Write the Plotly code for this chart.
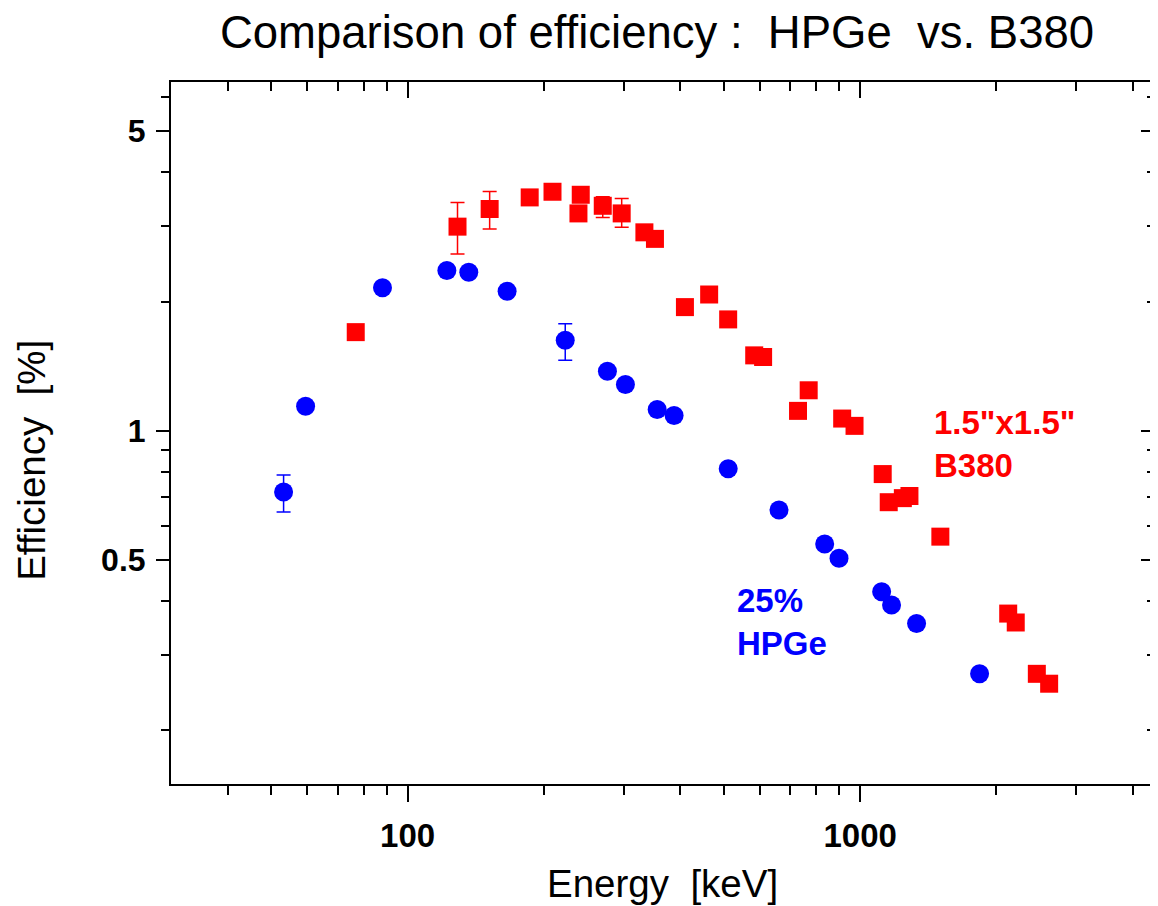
import plotly.graph_objects as go
import math

# ---------------- data ----------------
hpge_energy = [53.2, 59.5, 88.0, 122.1, 136.5, 165.9, 223.0, 276.4, 302.9, 356.0, 388.0,
               511.0, 661.7, 834.8, 898.0, 1115.5, 1173.2, 1332.5, 1836.1]
hpge_eff = [0.719, 1.140, 2.153, 2.362, 2.340, 2.114, 1.624, 1.375, 1.281, 1.120, 1.085,
            0.815, 0.653, 0.544, 0.504, 0.421, 0.392, 0.355, 0.271]
hpge_err_plus = [0.069, 0, 0, 0, 0, 0, 0.152, 0, 0, 0, 0, 0, 0, 0, 0, 0, 0, 0, 0]
hpge_err_minus = [0.073, 0, 0, 0, 0, 0, 0.165, 0, 0, 0, 0, 0, 0, 0, 0, 0, 0, 0, 0]

b380_energy = [76.8, 128.9, 151.8, 186.1, 209.0, 238.5, 241.3, 269.9, 297.2, 333.6, 352.0,
               410.0, 463.8, 510.9, 583.3, 610.3, 729.0, 769.6, 912.6, 971.8,
               1121.6, 1156.5, 1242.6, 1285.0, 1504.0, 2124.0, 2207.0, 2457.0, 2616.0]
b380_eff = [1.697, 2.990, 3.287, 3.498, 3.606, 3.210, 3.548, 3.344, 3.210, 2.900, 2.800,
            1.941, 2.077, 1.817, 1.498, 1.485, 1.112, 1.242, 1.067, 1.026,
            0.792, 0.681, 0.696, 0.704, 0.566, 0.3745, 0.357, 0.271, 0.257]
b380_err_plus = [0, 0.415, 0.325, 0, 0, 0, 0, 0.166, 0.267, 0, 0,
                 0, 0, 0, 0, 0, 0, 0, 0, 0,
                 0, 0, 0, 0, 0, 0, 0, 0, 0]
b380_err_minus = [0, 0.407, 0.334, 0, 0, 0, 0, 0.204, 0.230, 0, 0,
                  0, 0, 0, 0, 0, 0, 0, 0, 0,
                  0, 0, 0, 0, 0, 0, 0, 0, 0]

x_major_vals = [100, 1000]
x_major_text = ["100", "1000"]
x_minor_vals = [40, 50, 60, 70, 80, 90, 200, 300, 400, 500, 600, 700, 800, 900, 2000, 3000, 4000]
y_major_vals = [0.5, 1, 5]
y_major_text = ["0.5", "1", "5"]
y_minor_vals = [0.2, 0.3, 0.4, 0.6, 0.7, 0.8, 0.9, 2, 3, 4, 6]

x_range = [30, 4460]
y_range = [0.15, 6.5]

FONT = "Liberation Sans, Arial, sans-serif"
BLUE = "#0000FF"
RED = "#FF0000"

# page has an 8px body margin: figure is sized/positioned to compensate
OFF = 8
W, H = 1158 - OFF, 906 - OFF
PL, PT, PR, PB = 171, 82, 1156, 784          # plot frame in page pixels
PW, PH = PR - PL, PB - PT


def px_x(px):
    return (px - PL) / PW


def px_y(py):
    return 1 - (py - PT) / PH


fig = go.Figure()

fig.add_trace(go.Scatter(
    x=hpge_energy, y=hpge_eff, mode="markers",
    marker=dict(symbol="circle", size=19, color=BLUE, line=dict(width=0)),
    error_y=dict(type="data", symmetric=False, array=hpge_err_plus, arrayminus=hpge_err_minus,
                 color=BLUE, thickness=1.5, width=7),
    showlegend=False))

fig.add_trace(go.Scatter(
    x=b380_energy, y=b380_eff, mode="markers",
    marker=dict(symbol="square", size=18, color=RED, line=dict(width=0)),
    error_y=dict(type="data", symmetric=False, array=b380_err_plus, arrayminus=b380_err_minus,
                 color=RED, thickness=1.5, width=7),
    showlegend=False))

# empty trace so the mirrored (inside-tick) axes exist
fig.add_trace(go.Scatter(x=[], y=[], xaxis="x2", yaxis="y2", showlegend=False))

xr = [math.log10(v) for v in x_range]
yr = [math.log10(v) for v in y_range]

common_x = dict(type="log", range=xr, showgrid=False, zeroline=False,
                tickvals=x_major_vals, ticklen=16, tickwidth=2, tickcolor="black")
common_y = dict(type="log", range=yr, showgrid=False, zeroline=False,
                tickvals=y_major_vals, ticklen=13, tickwidth=2, tickcolor="black")

fig.update_layout(
    width=W, height=H,
    margin=dict(l=PL - OFF, r=W + OFF - PR, t=PT - OFF, b=H + OFF - PB, pad=0),
    paper_bgcolor="white", plot_bgcolor="white",
    font=dict(family=FONT, color="black"),
    xaxis=dict(**common_x, ticks="outside", ticktext=x_major_text, ticklabelstandoff=5,
               showline=True, mirror=True, linewidth=2, linecolor="black",
               tickfont=dict(family=FONT, size=33, color="black", weight="bold"),
               minor=dict(tickvals=x_minor_vals, ticks="outside", ticklen=9, tickwidth=2,
                          tickcolor="black", showgrid=False)),
    yaxis=dict(**common_y, ticks="outside", ticktext=y_major_text, ticklabelstandoff=4,
               showline=True, mirror=True, linewidth=2, linecolor="black",
               tickfont=dict(family=FONT, size=32, color="black", weight="bold"),
               minor=dict(tickvals=y_minor_vals, ticks="outside", ticklen=8, tickwidth=2,
                          tickcolor="black", showgrid=False)),
    xaxis2=dict(**common_x, overlaying="x", side="top", anchor="y", ticks="inside",
                showline=False, showticklabels=False,
                minor=dict(tickvals=x_minor_vals, ticks="inside", ticklen=9, tickwidth=2,
                           tickcolor="black", showgrid=False)),
    yaxis2=dict(**common_y, overlaying="y", side="right", anchor="x", ticks="inside",
                showline=False, showticklabels=False,
                minor=dict(tickvals=y_minor_vals, ticks="inside", ticklen=7, tickwidth=2,
                           tickcolor="black", showgrid=False)),
    title=dict(text="Comparison of efficiency :\u00a0 HPGe\u00a0 vs. B380",
               font=dict(family=FONT, size=45.5, color="black"),
               x=(657 - OFF) / W, xref="container", xanchor="center",
               y=1 - 8 / H, yref="container", yanchor="top"),
)

# axis titles
fig.add_annotation(text="Energy\u00a0 [keV]", xref="paper", yref="paper",
                   x=px_x(664), y=px_y(907), xanchor="center", yanchor="bottom",
                   showarrow=False, font=dict(family=FONT, size=38.5, color="black"))
fig.add_annotation(text="Efficiency\u00a0 [%]", xref="paper", yref="paper",
                   x=px_x(7), y=px_y(460), xanchor="left", yanchor="middle",
                   textangle=-90, showarrow=False, font=dict(family=FONT, size=38.5, color="black"))

# series labels
fig.add_annotation(text="<b>25%<br>HPGe</b>", xref="paper", yref="paper",
                   x=px_x(736), y=px_y(580), xanchor="left", yanchor="top",
                   align="left", showarrow=False, font=dict(family=FONT, size=33, color=BLUE))
fig.add_annotation(text="<b>1.5\"x1.5\"<br>B380</b>", xref="paper", yref="paper",
                   x=px_x(934), y=px_y(402), xanchor="left", yanchor="top",
                   align="left", showarrow=False, font=dict(family=FONT, size=33, color=RED))

fig.write_html("out.html")
